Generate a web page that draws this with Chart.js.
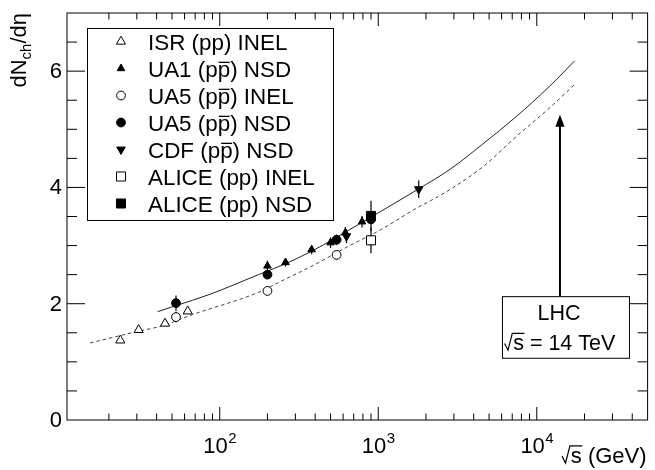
<!DOCTYPE html>
<html>
<head>
<meta charset="utf-8">
<script src="https://cdn.jsdelivr.net/npm/chart.js@4.4.0/dist/chart.umd.min.js"></script>
<style>
html,body{margin:0;padding:0;background:#fff;}
#wrap{width:655px;height:470px;}
</style>
</head>
<body>
<div id="wrap"><canvas id="c" width="655" height="470"></canvas></div>
<script>
// ---------------- data ----------------
const isrX = [23.6, 30.8, 45.2, 62.8];
const isrY = [1.37, 1.55, 1.66, 1.87];
const isrErr = [0, 0, 0, 0];

const ua1X = [200, 260, 380, 500, 620, 790, 900];
const ua1Y = [2.65, 2.71, 2.93, 3.05, 3.22, 3.41, 3.48];
const ua1Err = [0.09, 0.07, 0.08, 0.09, 0.10, 0.10, 0.10];

const ua5InelX = [53, 200, 546, 900];
const ua5InelY = [1.77, 2.22, 2.84, 3.09];
const ua5InelErr = [0.09, 0.04, 0.08, 0.06];

const ua5NsdX = [53, 200, 546, 900];
const ua5NsdY = [2.01, 2.50, 3.10, 3.45];
const ua5NsdErr = [0.13, 0.05, 0.09, 0.08];

const cdfX = [630, 1800];
const cdfY = [3.16, 3.97];
const cdfErr = [0.12, 0.15];

const aliceInelX = [900];
const aliceInelY = [3.09];
const aliceInelErr = [0.22];

const aliceNsdX = [900];
const aliceNsdY = [3.51];
const aliceNsdErr = [0.26];

// fitted curves
const nsdFitX = [40.6, 52.8, 85.4, 175, 251, 377, 774, 1753, 2831, 4578, 7396, 11940, 17330];
const nsdFitY = [1.863, 1.966, 2.155, 2.498, 2.67, 2.898, 3.385, 3.957, 4.31, 4.75, 5.215, 5.73, 6.177];

const inelFitX = [15.2, 30.4, 43.6, 67.1, 175, 245, 396, 640, 1033, 1671, 2700, 4578, 7396, 11940, 17330];
const inelFitY = [1.325, 1.524, 1.622, 1.811, 2.194, 2.39, 2.67, 2.98, 3.27, 3.614, 3.928, 4.357, 4.872, 5.36, 5.77];

const legendLabels = ['ISR (pp) INEL', 'UA1 (pp\u0305) NSD', 'UA5 (pp\u0305) INEL', 'UA5 (pp\u0305) NSD',
                      'CDF (pp\u0305) NSD', 'ALICE (pp) INEL', 'ALICE (pp) NSD'];

const yTickLabels = [0, 2, 4, 6];
const xTickDecades = [100, 1000, 10000];
const xTitle = ' (GeV)';
const yTitleParts = ['dN', 'ch', '/d\u03b7'];
const lhcLines = ['LHC', ' = 14 TeV'];
const lhcEnergy = 14000;

// ---------------- layout / style ----------------
const FONT = '"Liberation Sans", Arial, Helvetica, sans-serif';
const font = s => s + 'px ' + FONT;
const xMin = 10.88, xMax = 50000, yMin = 0, yMax = 7;
const annot = { arrowTip: 5.25, boxTop: 2.13, boxBottom: 1.07 };

function pts(xs, ys) { return xs.map((x, i) => ({ x: x, y: ys[i] })); }

function marker(label, xs, ys, errs, style, r, filled, rot, order) {
  return {
    label: label, data: pts(xs, ys), errors: errs, showLine: false,
    pointStyle: style, pointRadius: r, pointHoverRadius: r, pointRotation: rot || 0,
    pointBackgroundColor: filled ? '#000' : '#fff', pointBorderColor: '#000',
    pointBorderWidth: 1, order: order
  };
}

const datasets = [
  marker(legendLabels[0], isrX, isrY, isrErr, 'triangle', 5.3, false, 0, 6),
  marker(legendLabels[1], ua1X, ua1Y, ua1Err, 'triangle', 4.4, true, 0, 5),
  marker(legendLabels[2], ua5InelX, ua5InelY, ua5InelErr, 'circle', 4.4, false, 0, 4),
  marker(legendLabels[3], ua5NsdX, ua5NsdY, ua5NsdErr, 'circle', 4.4, true, 0, 3),
  marker(legendLabels[4], cdfX, cdfY, cdfErr, 'triangle', 4.9, true, 180, 2),
  marker(legendLabels[5], aliceInelX, aliceInelY, aliceInelErr, 'rect', 6.4, false, 0, 1),
  marker(legendLabels[6], aliceNsdX, aliceNsdY, aliceNsdErr, 'rect', 6.4, true, 0, 0),
  { label: 'NSD fit', data: pts(nsdFitX, nsdFitY), showLine: true, pointRadius: 0, pointHoverRadius: 0,
    borderColor: '#222', borderWidth: 1, cubicInterpolationMode: 'monotone', order: 10 },
  { label: 'INEL fit', data: pts(inelFitX, inelFitY), showLine: true, pointRadius: 0, pointHoverRadius: 0,
    borderColor: '#444', borderWidth: 1, borderDash: [3.5, 3], cubicInterpolationMode: 'monotone', order: 10 }
];

const legendStyles = [
  ['triangle', 5.3, false, 0], ['triangle', 4.4, true, 0], ['circle', 4.4, false, 0], ['circle', 4.4, true, 0],
  ['triangle', 4.9, true, 180], ['rect', 6.4, false, 0], ['rect', 6.4, true, 0]
];

function drawMarker(ctx, style, x, y, r, filled, rotDeg) {
  ctx.save();
  ctx.beginPath();
  if (style === 'triangle') {
    let a = rotDeg * Math.PI / 180;
    for (let i = 0; i < 3; i++) {
      const px = x + Math.sin(a) * r, py = y - Math.cos(a) * r;
      if (i === 0) ctx.moveTo(px, py); else ctx.lineTo(px, py);
      a += 2 * Math.PI / 3;
    }
    ctx.closePath();
  } else if (style === 'circle') {
    ctx.arc(x, y, r, 0, 2 * Math.PI);
  } else {
    const s = Math.SQRT1_2 * r;
    ctx.rect(x - s, y - s, 2 * s, 2 * s);
  }
  ctx.fillStyle = filled ? '#000' : '#fff';
  ctx.fill();
  ctx.strokeStyle = '#000';
  ctx.lineWidth = 1;
  ctx.stroke();
  ctx.restore();
}

function drawRich(ctx, text, x, baseline, fs) {
  const parts = text.split('p\u0305');
  let cx = x;
  parts.forEach((part, i) => {
    ctx.fillText(part, cx, baseline);
    cx += ctx.measureText(part).width;
    if (i < parts.length - 1) {
      ctx.fillText('p', cx, baseline);
      const pw = ctx.measureText('p').width;
      ctx.fillRect(cx + 1, baseline - fs * 0.66, pw - 1.5, 1.3);
      cx += pw;
    }
  });
}

// draws a radical sign over "s"; returns the x after the s
function drawSqrtS(ctx, x, b, fs) {
  ctx.font = font(fs);
  const sw = ctx.measureText('s').width;
  const h = fs * 0.78;
  ctx.save();
  ctx.strokeStyle = '#000';
  ctx.lineWidth = 1.2;
  ctx.beginPath();
  ctx.moveTo(x, b - h * 0.40);
  ctx.lineTo(x + fs * 0.16, b);
  ctx.lineTo(x + fs * 0.36, b - h);
  ctx.lineTo(x + fs * 0.42 + sw, b - h);
  ctx.stroke();
  ctx.restore();
  ctx.fillText('s', x + fs * 0.40, b);
  return x + fs * 0.40 + sw;
}
function sqrtSWidth(ctx, fs) { ctx.font = font(fs); return fs * 0.40 + ctx.measureText('s').width; }

const decor = {
  id: 'decor',
  beforeDatasetsDraw(chart) {
    const ctx = chart.ctx, xs = chart.scales.x, ys = chart.scales.y;
    ctx.save();
    ctx.strokeStyle = '#000';
    ctx.lineWidth = 1.2;
    chart.data.datasets.forEach(ds => {
      if (!ds.errors) return;
      ds.data.forEach((p, i) => {
        const e = ds.errors[i];
        if (!e) return;
        const px = xs.getPixelForValue(p.x);
        ctx.beginPath();
        ctx.moveTo(px, ys.getPixelForValue(p.y - e));
        ctx.lineTo(px, ys.getPixelForValue(p.y + e));
        ctx.stroke();
      });
    });
    ctx.restore();
  },
  afterDraw(chart) {
    const ctx = chart.ctx, xs = chart.scales.x, ys = chart.scales.y, a = chart.chartArea;
    ctx.save();
    // frame
    ctx.strokeStyle = '#000';
    ctx.lineWidth = 1;
    ctx.strokeRect(a.left, a.top, a.right - a.left, a.bottom - a.top);
    // x ticks
    ctx.beginPath();
    [10, 100, 1000, 10000].forEach(d => {
      for (let m = 1; m <= 9; m++) {
        const v = m * d;
        if (v <= xMin || v >= xMax) continue;
        const px = xs.getPixelForValue(v);
        const len = m === 1 ? 13 : 6.5;
        ctx.moveTo(px, a.bottom); ctx.lineTo(px, a.bottom - len);
        ctx.moveTo(px, a.top); ctx.lineTo(px, a.top + len);
      }
    });
    // y ticks
    for (let v = 0.5; v < yMax; v += 0.5) {
      const py = ys.getPixelForValue(v);
      const len = (v % 2 === 0) ? 18 : 10;
      ctx.moveTo(a.left, py); ctx.lineTo(a.left + len, py);
      ctx.moveTo(a.right, py); ctx.lineTo(a.right - len, py);
    }
    ctx.stroke();

    ctx.fillStyle = '#000';
    // y tick labels
    ctx.font = font(22);
    ctx.textAlign = 'right';
    ctx.textBaseline = 'middle';
    yTickLabels.forEach(v => ctx.fillText(String(v), a.left - 5, ys.getPixelForValue(v) + 1));
    // x tick labels
    ctx.textAlign = 'left';
    ctx.textBaseline = 'alphabetic';
    xTickDecades.forEach(v => {
      const px = xs.getPixelForValue(v);
      const ex = String(Math.round(Math.log10(v)));
      ctx.font = font(22);
      const w1 = ctx.measureText('10').width;
      ctx.font = font(15);
      const w2 = ctx.measureText(ex).width;
      const x0 = px - (w1 + w2) / 2;
      ctx.font = font(22);
      ctx.fillText('10', x0, a.bottom + 33);
      ctx.font = font(15);
      ctx.fillText(ex, x0 + w1 + 0.5, a.bottom + 23);
    });
    // x title
    {
      const fs = 22;
      const w = sqrtSWidth(ctx, fs) + ctx.measureText(xTitle).width;
      let x0 = a.right - 1 - w;
      const b = a.bottom + 43;
      x0 = drawSqrtS(ctx, x0, b, fs);
      ctx.fillText(xTitle, x0, b);
    }
    // y title (rotated)
    {
      ctx.save();
      ctx.translate(26, a.top);
      ctx.rotate(-Math.PI / 2);
      ctx.font = font(22); const w0 = ctx.measureText(yTitleParts[0]).width;
      ctx.font = font(15); const w1 = ctx.measureText(yTitleParts[1]).width;
      ctx.font = font(22); const w2 = ctx.measureText(yTitleParts[2]).width;
      let x0 = -(w0 + w1 + w2);
      ctx.textAlign = 'left';
      ctx.font = font(22); ctx.fillText(yTitleParts[0], x0, 0); x0 += w0;
      ctx.font = font(15); ctx.fillText(yTitleParts[1], x0, 5); x0 += w1;
      ctx.font = font(22); ctx.fillText(yTitleParts[2], x0, 0);
      ctx.restore();
    }
    // legend
    {
      const L = 87, T = 28, R = 333, B = 220;
      ctx.fillStyle = '#fff';
      ctx.fillRect(L, T, R - L, B - T);
      ctx.strokeStyle = '#000';
      ctx.lineWidth = 1;
      ctx.strokeRect(L + 0.5, T + 0.5, R - L, B - T);
      const fs = 22.4;
      ctx.font = font(fs);
      ctx.textAlign = 'left';
      ctx.textBaseline = 'alphabetic';
      legendLabels.forEach((lab, i) => {
        const cy = 41.5 + i * 27;
        const st = legendStyles[i];
        drawMarker(ctx, st[0], 121, cy, st[1], st[2], st[3]);
        ctx.fillStyle = '#000';
        ctx.font = font(fs);
        drawRich(ctx, lab, 148, cy + 8, fs);
      });
    }
    // LHC annotation
    {
      const ax = xs.getPixelForValue(lhcEnergy);
      const top = ys.getPixelForValue(annot.boxTop);
      const bot = ys.getPixelForValue(annot.boxBottom);
      const tip = ys.getPixelForValue(annot.arrowTip);
      ctx.strokeStyle = '#000';
      ctx.lineWidth = 2;
      ctx.beginPath();
      ctx.moveTo(ax, top);
      ctx.lineTo(ax, tip + 8);
      ctx.stroke();
      ctx.fillStyle = '#000';
      ctx.beginPath();
      ctx.moveTo(ax, tip);
      ctx.lineTo(ax - 4.6, tip + 12);
      ctx.lineTo(ax + 4.6, tip + 12);
      ctx.closePath();
      ctx.fill();
      const bl = ax - 58, br = ax + 69;
      ctx.fillStyle = '#fff';
      ctx.fillRect(bl, top, br - bl, bot - top);
      ctx.lineWidth = 1;
      ctx.strokeStyle = '#000';
      ctx.strokeRect(bl + 0.5, top + 0.5, br - bl, bot - top);
      ctx.fillStyle = '#000';
      const fs = 21.5;
      ctx.font = font(fs);
      ctx.textAlign = 'center';
      ctx.fillText(lhcLines[0], ax - 1, top + 24);
      ctx.textAlign = 'left';
      const w = sqrtSWidth(ctx, fs) + ctx.measureText(lhcLines[1]).width;
      let x0 = ax - w / 2;
      x0 = drawSqrtS(ctx, x0, top + 54, fs);
      ctx.fillText(lhcLines[1], x0, top + 54);
    }
    ctx.restore();
  }
};

new Chart(document.getElementById('c'), {
  type: 'scatter',
  data: { datasets: datasets },
  options: {
    responsive: false,
    animation: false,
    events: [],
    layout: { padding: { left: 67, right: 2, top: 13, bottom: 50 } },
    plugins: { legend: { display: false }, tooltip: { enabled: false }, title: { display: false } },
    scales: {
      x: { type: 'logarithmic', min: xMin, max: xMax,
           ticks: { display: false }, grid: { display: false, drawTicks: false }, border: { display: false } },
      y: { type: 'linear', min: yMin, max: yMax,
           ticks: { display: false }, grid: { display: false, drawTicks: false }, border: { display: false } }
    }
  },
  plugins: [decor]
});
</script>
</body>
</html>
